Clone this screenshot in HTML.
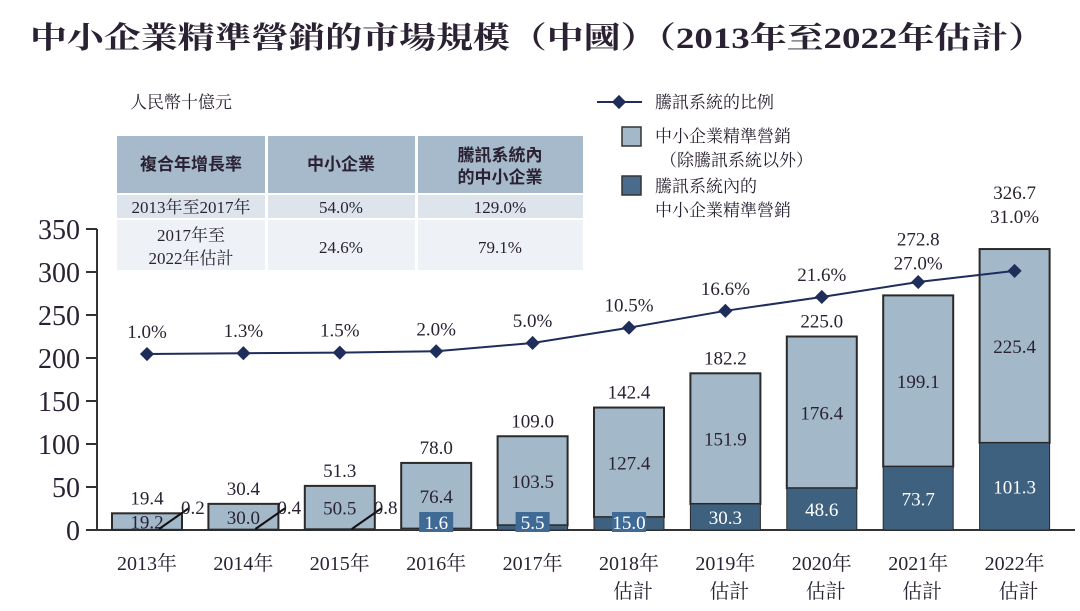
<!DOCTYPE html>
<html><head><meta charset="utf-8"><style>
body{margin:0;background:#fff;width:1080px;height:611px;overflow:hidden}
svg{display:block}
text{font-family:"Liberation Serif","Noto Serif CJK SC",serif;fill:#2a2233}
</style></head><body>
<svg id="c" width="1080" height="611">
<text x="30" y="48" font-size="30" font-weight="bold" textLength="1015" lengthAdjust="spacingAndGlyphs">中小企業精準營銷的市場規模（中國）（2013年至2022年估計）</text>
<text x="130" y="108" font-size="17">人民幣十億元</text>
<g>
<rect x="117" y="136" width="148" height="57" fill="#a7bacb"/>
<rect x="268" y="136" width="147" height="57" fill="#a7bacb"/>
<rect x="418" y="136" width="165" height="57" fill="#a7bacb"/>
<rect x="117" y="195" width="148" height="23" fill="#dde4ec"/>
<rect x="268" y="195" width="147" height="23" fill="#dde4ec"/>
<rect x="418" y="195" width="165" height="23" fill="#dde4ec"/>
<rect x="117" y="220" width="148" height="50" fill="#eef1f5"/>
<rect x="268" y="220" width="147" height="50" fill="#eef1f5"/>
<rect x="418" y="220" width="165" height="50" fill="#eef1f5"/>
<g font-weight="bold" font-size="17" text-anchor="middle">
<text x="191" y="170" style="font-family:'Noto Sans CJK TC',sans-serif">複合年增長率</text>
<text x="341" y="170" style="font-family:'Noto Sans CJK TC',sans-serif">中小企業</text>
<text x="500" y="161" style="font-family:'Noto Sans CJK TC',sans-serif">騰訊系統內</text>
<text x="500" y="183" style="font-family:'Noto Sans CJK TC',sans-serif">的中小企業</text>
</g>
<g font-size="17" text-anchor="middle">
<text x="191" y="213">2013年至2017年</text><text x="341" y="213">54.0%</text><text x="500" y="213">129.0%</text>
<text x="191" y="241">2017年至</text><text x="191" y="264">2022年估計</text>
<text x="341" y="253">24.6%</text><text x="500" y="253">79.1%</text>
</g></g>
<g font-size="17">
<line x1="597" y1="102" x2="642" y2="102" stroke="#1f2d5a" stroke-width="2"/>
<rect x="614" y="97" width="10" height="10" fill="#1f2d5a" transform="rotate(45 619 102)"/>
<text x="655" y="108">騰訊系統的比例</text>
<rect x="622" y="127" width="19" height="19" fill="#a3b8c9" stroke="#333" stroke-width="1.5"/>
<text x="655" y="142">中小企業精準營銷</text><text x="660" y="166">（除騰訊系統以外）</text>
<rect x="622" y="176" width="19" height="19" fill="#4a6b8c" stroke="#333" stroke-width="1.5"/>
<text x="655" y="192">騰訊系統內的</text><text x="655" y="216">中小企業精準營銷</text>
</g>
<g id="plot"></g>
</svg>
<script>
const years=["2013年","2014年","2015年","2016年","2017年","2018年","2019年","2020年","2021年","2022年"];
const sub=["","","","","","估計","估計","估計","估計","估計"];
const lightVals=[19.2,30.0,50.5,76.4,103.5,127.4,151.9,176.4,199.1,225.4];
const darkVals=[0.2,0.4,0.8,1.6,5.5,15.0,30.3,48.6,73.7,101.3];
const totals=[19.4,30.4,51.3,78.0,109.0,142.4,182.2,225.0,272.8,326.7];
const pcts=[1.0,1.3,1.5,2.0,5.0,10.5,16.6,21.6,27.0,31.0];
const yTicks=[0,50,100,150,200,250,300,350];
const NS="http://www.w3.org/2000/svg",g=document.getElementById('plot');
const y=v=>530-v*0.86, x=i=>147+i*96.4, yp=p=>356.8-2.77*p;
function el(t,a,txt){const e=document.createElementNS(NS,t);for(const k in a)e.setAttribute(k,a[k]);if(txt!==undefined)e.textContent=txt;g.appendChild(e);return e;}
let ax=el('line',{x1:97,y1:229,x2:97,y2:531,stroke:'#333','stroke-width':2});

let bx=el('line',{x1:97,y1:530,x2:1075,y2:530,stroke:'#333','stroke-width':2});

yTicks.forEach(v=>{
 el('line',{x1:86,y1:y(v),x2:97,y2:y(v),stroke:'#333','stroke-width':2});
 let t=el('text',{x:80,y:y(v)+10,'font-size':28,'text-anchor':'end'},v);
 
});
years.forEach((yr,i)=>{
 const cx=x(i),w=70,l=cx-35,tot=lightVals[i]+darkVals[i];
 let r=el('rect',{x:l,y:y(tot),width:w,height:y(darkVals[i])-y(tot),fill:'#a3b8c9',stroke:'#2a2a2a','stroke-width':2});
 
 let d=el('rect',{x:l,y:y(darkVals[i]),width:w,height:530-y(darkVals[i]),fill:'#3f6180',stroke:'#2a2a2a','stroke-width':1});
 
 el('text',{x:cx,y:y(tot)-(i>=8?50:9),'font-size':19,'text-anchor':'middle'},totals[i].toFixed(1));
 const my=(y(tot)+y(darkVals[i]))/2;
 el('text',{x:cx,y:i<3?Math.min(my+7,531):my+7,'font-size':19,'text-anchor':'middle'},lightVals[i].toFixed(1));
 if(i<3){
  el('line',{x1:cx+12,y1:529,x2:cx+42,y2:508,stroke:'#111','stroke-width':2});
  el('text',{x:cx+34,y:514,'font-size':19},darkVals[i].toFixed(1));
 } else if(i<6){
  el('rect',{x:cx-17,y:512,width:34,height:20,fill:'#3f6a95'});
  el('text',{x:cx,y:529,'font-size':19,'text-anchor':'middle',style:'fill:#fff'},darkVals[i].toFixed(1));
 } else {
  el('text',{x:cx,y:(y(darkVals[i])+530)/2+7,'font-size':19,'text-anchor':'middle',style:'fill:#fff'},darkVals[i].toFixed(1));
 }
 let xl=el('text',{x:cx,y:570,'font-size':20,'text-anchor':'middle'},yr);
 
 if(sub[i])el('text',{x:cx+4,y:598,'font-size':20,'text-anchor':'middle'},sub[i]);
});
let pts=pcts.map((p,i)=>x(i)+','+yp(p)).join(' ');
let pl=el('polyline',{points:pts,fill:'none',stroke:'#1f2d5a','stroke-width':2});

pcts.forEach((p,i)=>{
 let m=el('rect',{x:x(i)-5,y:yp(p)-5,width:10,height:10,fill:'#1f2d5a',transform:`rotate(45 ${x(i)} ${yp(p)})`});
 
 el('text',{x:x(i),y:i>=8?y(totals[i])-26:yp(p)-16,'font-size':19,'text-anchor':'middle'},p.toFixed(1)+'%');
});
</script>
</body></html>
